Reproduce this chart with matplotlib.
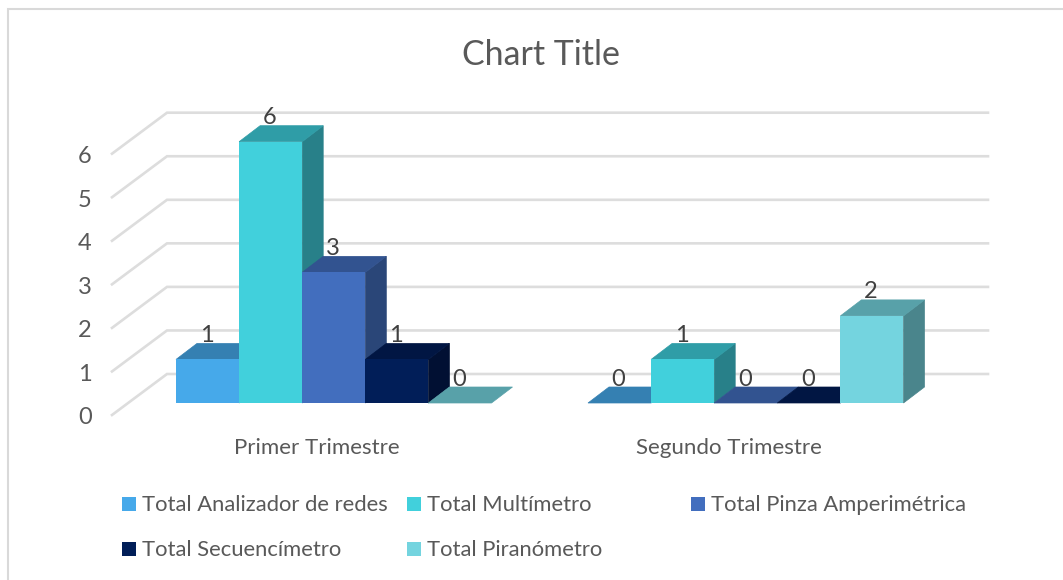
import matplotlib
matplotlib.use('Agg')
import matplotlib.pyplot as plt
from matplotlib.patches import Polygon, Rectangle

plt.rcParams['font.family'] = ['Lato', 'DejaVu Sans']

categories = ['Primer Trimestre', 'Segundo Trimestre']
series_names = ['Total Analizador de redes', 'Total Multímetro', 'Total Pinza Amperimétrica',
                'Total Secuencímetro', 'Total Piranómetro']
series_values = [[1, 0], [6, 1], [3, 0], [1, 0], [0, 2]]
y_ticks = [0, 1, 2, 3, 4, 5, 6]

front_colors = ['#46A9EA', '#41D0DC', '#426EBE', '#011E58', '#74D4DF']
top_colors = ['#3580B2', '#2F9DA7', '#325390', '#011643', '#58A1A9']
side_colors = ['#2A658C', '#288089', '#2A4678', '#011033', '#4A858C']

W, H = 1063, 580
bar_px = 63.1
unit_px = 43.55
x0_px, y0_px = 176, 403

# x in bar widths, y in chart values, so the axes map straight onto pixels
fig = plt.figure(figsize=(W / 100, H / 100), dpi=100)
ax = fig.add_axes([0, 0, 1, 1])
ax.set_xlim(-x0_px / bar_px, (W - x0_px) / bar_px)
ax.set_ylim(-(H - y0_px) / unit_px, y0_px / unit_px)
ax.axis('off')

group_step = 412 / bar_px
depth_x = 21 / bar_px
depth_y = 16 / unit_px

# floor / wall offsets
wall_front_x = (112 - x0_px) / bar_px
wall_back_x = (167 - x0_px) / bar_px
wall_end_x = (988 - x0_px) / bar_px
wall_front_y = -12 / unit_px
wall_back_y = 29 / unit_px

# gridlines
for v in y_ticks:
    ax.plot([wall_front_x, wall_back_x, wall_end_x],
            [v + wall_front_y, v + wall_back_y, v + wall_back_y],
            color='#DDDDDD', lw=1.9, solid_joinstyle='miter', zorder=1)
    ax.text(wall_front_x - 27 / bar_px, v + wall_front_y - 3 / unit_px, str(v), fontsize=17,
            color='#595959', ha='center', va='center')

# bars, back to front inside each group so that sides overlap correctly
z = 2
for g in range(len(categories)):
    for s in range(len(series_names)):
        left = g * group_step + s
        v = series_values[s][g]
        if v > 0:
            ax.add_patch(Polygon([(left + 1, 0), (left + 1 + depth_x, depth_y),
                                  (left + 1 + depth_x, v + depth_y), (left + 1, v)],
                                 fc=side_colors[s], ec=side_colors[s], lw=0.5, zorder=z))
        ax.add_patch(Polygon([(left, v), (left + depth_x, v + depth_y),
                              (left + 1 + depth_x, v + depth_y), (left + 1, v)],
                             fc=top_colors[s], ec=top_colors[s], lw=0.5, zorder=z))
        if v > 0:
            ax.add_patch(Rectangle((left, 0), 1, v, fc=front_colors[s], ec='none', zorder=z + 1))
        ax.text(left + 0.5 - 1 / bar_px, v + depth_y + 8 / unit_px, str(v), fontsize=17,
                color='#404040', ha='center', va='center', zorder=50)
        z += 2

    ax.text(g * group_step + 2.25 - 1 / bar_px, -1 - 1 / unit_px, categories[g], fontsize=16,
            color='#595959', ha='center', va='center')

# chart title
ax.text((541 - x0_px) / bar_px, (y0_px - 55) / unit_px, 'Chart Title', fontsize=24.4,
        color='#595959', ha='center', va='center')

# legend placed by hand, three columns over two rows
legend_x = [122, 407, 691, 122, 407]
legend_y = [504, 504, 504, 549, 549]
for s, name in enumerate(series_names):
    px, py = legend_x[s], legend_y[s]
    ax.add_patch(Rectangle(((px - x0_px) / bar_px, (y0_px - py - 7) / unit_px),
                           14 / bar_px, 14 / unit_px, fc=front_colors[s], ec='none'))
    ax.text((px + 20 - x0_px) / bar_px, (y0_px - py - 1) / unit_px, name, fontsize=15.85,
            color='#595959', ha='left', va='center')

# chart border: only the left and top edges are in the crop
ax.plot([(8 - x0_px) / bar_px, (8 - x0_px) / bar_px, (W - x0_px) / bar_px],
        [-(H - y0_px) / unit_px, (y0_px - 8.5) / unit_px, (y0_px - 8.5) / unit_px],
        color='#D9D9D9', lw=1.5, solid_joinstyle='miter')

fig.savefig('out.png', dpi=100)
